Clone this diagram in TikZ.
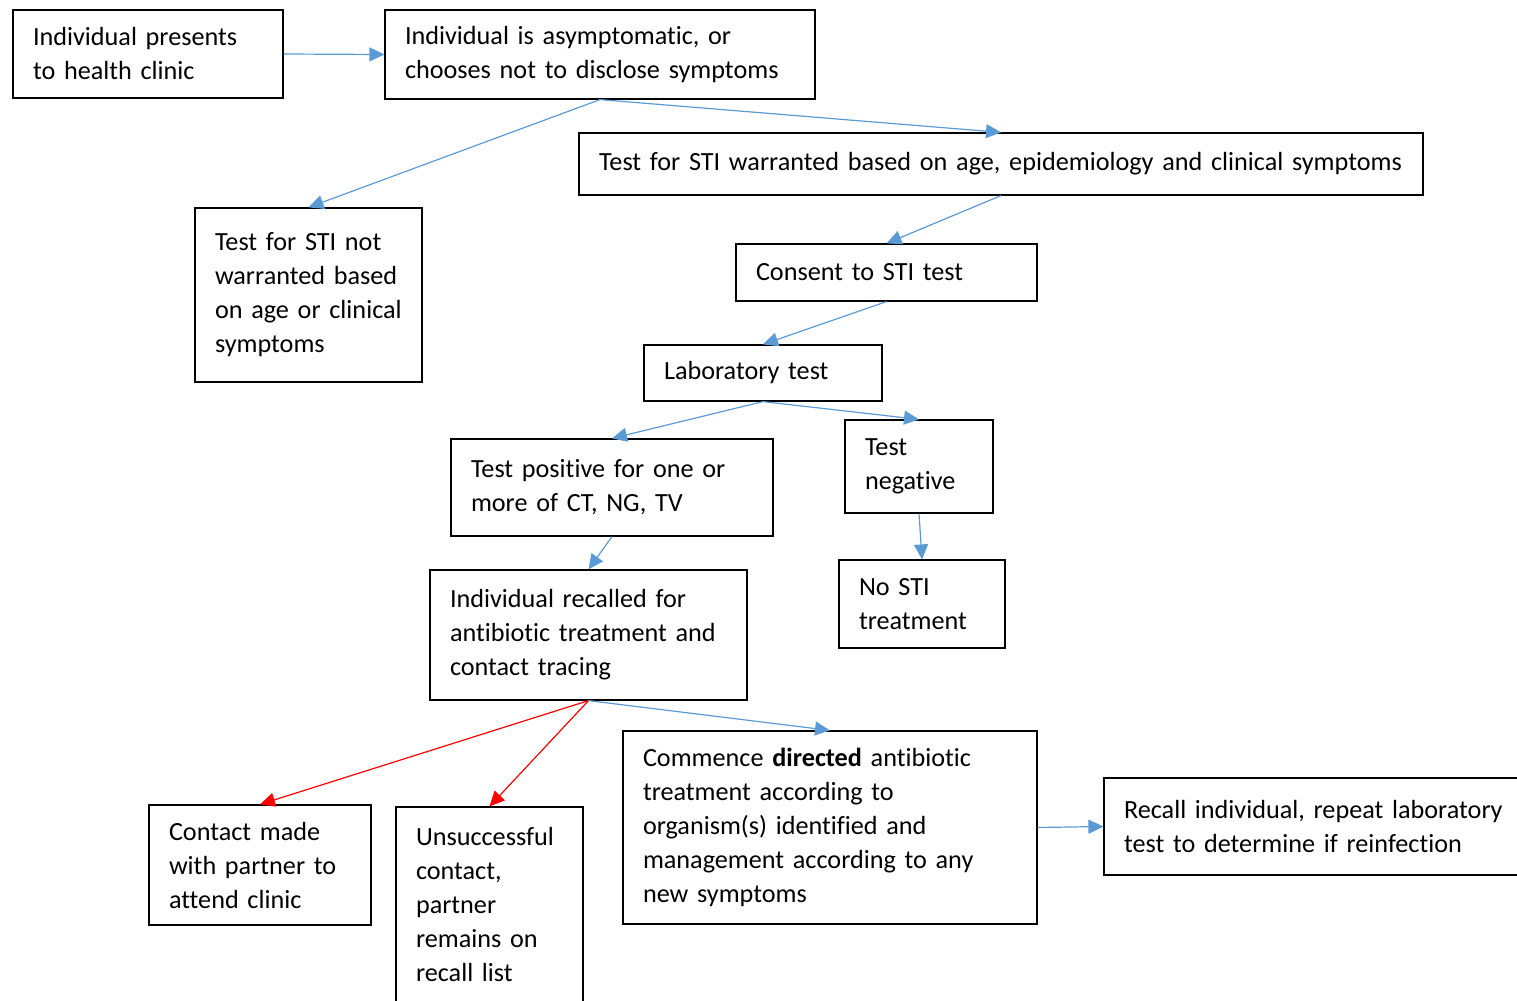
\documentclass[tikz,border=0pt]{standalone}
\usepackage{fontspec}
\setmainfont[Ligatures=NoCommon]{Carlito}
\usetikzlibrary{arrows.meta, positioning}
\definecolor{LinkBlue}{HTML}{5B9BD5}
\definecolor{LinkRed}{HTML}{FF0000}

\begin{document}
\begin{tikzpicture}[x=0.5pt, y=-0.5pt,
    box/.style={draw, line width=0.6pt, align=left, inner xsep=10pt, font=\fontsize{13.1}{17}\selectfont},
    link/.style={-{Triangle[length=7.5pt, width=7pt]}, LinkBlue, line width=0.6pt},
    redlink/.style={link, LinkRed}]
    \useasboundingbox (0,0) rectangle (1517,1001);

    \node (pres) [box, text width=115pt, minimum height=44pt] at (148, 54) {Individual presents\\to health clinic};
    \node (asym) [box, text width=195pt, minimum height=44.5pt] at (600, 54.5) {Individual is asymptomatic, or\\chooses not to disclose symptoms};
    \node (warr) [box, text width=402pt, minimum height=31pt] at (1001, 164) {Test for STI warranted based on age, epidemiology and clinical symptoms};
    \node (notw) [box, text width=93.5pt, minimum height=87pt] at (308.5, 295) {Test for STI not\\warranted based\\on age or clinical\\symptoms};
    \node (cons) [box, text width=130.5pt, minimum height=28.5pt] at (886.5, 272.5) {Consent to STI test};
    \node (lab) [box, text width=99pt, minimum height=28pt] at (763, 373) {Laboratory test};
    \node (pos) [box, text width=141pt, minimum height=48.5pt] at (612, 487.5) {Test positive for one or\\more of CT, NG, TV};
    \node (neg) [box, text width=54pt, minimum height=46.5pt] at (919, 466.5) {Test\\negative};
    \node (nost) [box, text width=63pt, minimum height=44pt] at (922, 604) {No STI\\treatment};
    \node (recall) [box, text width=138.5pt, minimum height=65pt] at (588.5, 635) {Individual recalled for\\antibiotic treatment and\\contact tracing};
    \node (partner) [box, text width=91pt, minimum height=60pt] at (260, 865) {Contact made\\with partner to\\attend clinic};
    \node (unsucc) [box, text width=73.5pt, minimum height=97.5pt] at (489.5, 904.5) {Unsuccessful\\contact,\\partner\\remains on\\recall list};
    \node (comm) [box, text width=187pt, minimum height=96.5pt] at (830, 827.5) {Commence \textbf{directed} antibiotic\\treatment according to\\organism(s) identified and\\management according to any\\new symptoms};
    \node (rep) [box, text width=193pt, minimum height=48.5pt] at (1317, 826.5) {Recall individual, repeat laboratory\\test to determine if reinfection};

    \draw [link] (pres.east) -- (asym.west);
    \draw [link] (asym.south) -- (notw.north);
    \draw [link] (asym.south) -- (warr.north);
    \draw [link] (warr.south) -- (cons.north);
    \draw [link] (cons.south) -- (lab.north);
    \draw [link] (lab.south) -- (pos.north);
    \draw [link] (lab.south) -- (neg.north);
    \draw [link] (neg.south) -- (nost.north);
    \draw [link] (pos.south) -- (recall.north);
    \draw [redlink] (recall.south) -- (partner.north);
    \draw [redlink] (recall.south) -- (unsucc.north);
    \draw [link] (recall.south) -- (comm.north);
    \draw [link] (comm.east) -- (rep.west);
\end{tikzpicture}
\end{document}
